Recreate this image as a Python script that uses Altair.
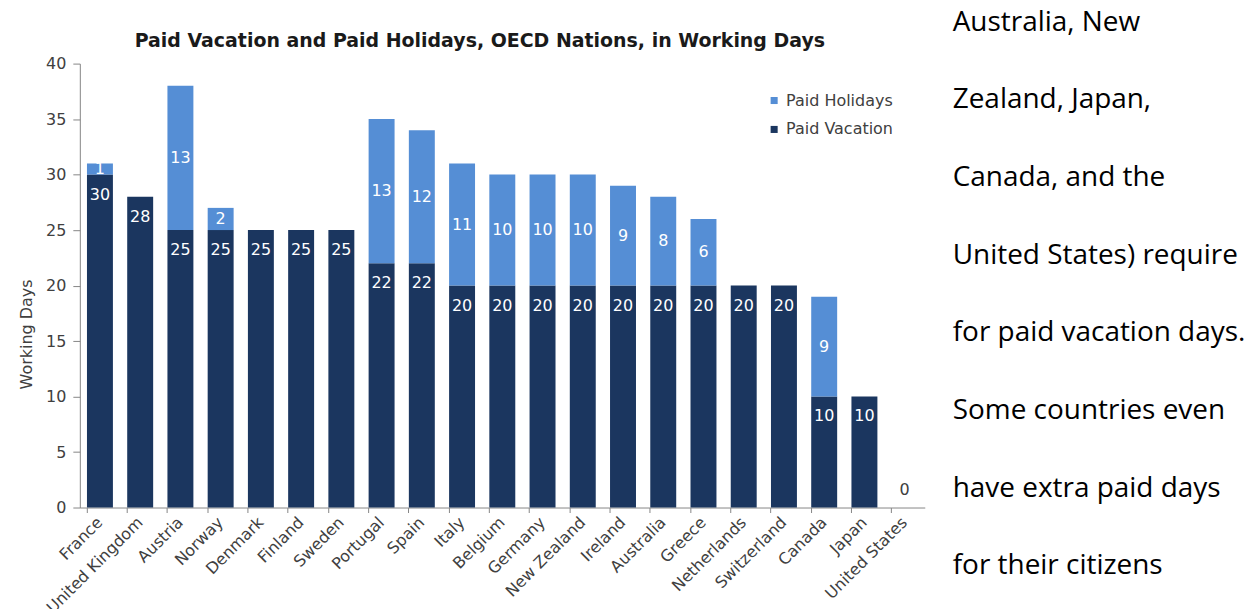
import altair as alt
import pandas as pd

countries = ["France", "United Kingdom", "Austria", "Norway", "Denmark", "Finland",
             "Sweden", "Portugal", "Spain", "Italy", "Belgium", "Germany",
             "New Zealand", "Ireland", "Australia", "Greece", "Netherlands",
             "Switzerland", "Canada", "Japan", "United States"]
vacation = [30, 28, 25, 25, 25, 25, 25, 22, 22, 20, 20, 20, 20, 20, 20, 20, 20, 20, 10, 10, 0]
holidays = [1, 0, 13, 2, 0, 0, 0, 13, 12, 11, 10, 10, 10, 9, 8, 6, 0, 0, 9, 0, 0]
series = ["Paid Holidays", "Paid Vacation"]
colors = ["#558ED5", "#1B365F"]
y_ticks = [0, 5, 10, 15, 20, 25, 30, 35, 40]
title_text = "Paid Vacation and Paid Holidays, OECD Nations, in Working Days"
side_text = ["Australia, New", "Zealand, Japan,", "Canada, and the",
             "United States) require", "for paid vacation days.",
             "Some countries even", "have extra paid days", "for their citizens"]

rows = []
for c, v, h in zip(countries, vacation, holidays):
    rows.append({"country": c, "series": "Paid Vacation", "value": v, "order": 0})
    rows.append({"country": c, "series": "Paid Holidays", "value": h, "order": 1})
bars_df = pd.DataFrame(rows)

vac_lab = pd.DataFrame([{"country": c, "pos": v, "label": str(v)}
                        for c, v in zip(countries, vacation) if v > 0])
zero_lab = pd.DataFrame([{"country": c, "pos": v, "label": str(v)}
                         for c, v in zip(countries, vacation) if v == 0])
hol_lab = pd.DataFrame([{"country": c, "pos": v + h / 2, "label": str(h)}
                        for c, v, h in zip(countries, vacation, holidays) if h > 0])
side_df = pd.DataFrame({"line": list(range(len(side_text))), "text": side_text})

FONT = "DejaVu Sans"
GREY = "#868686"
FS = 16

x_enc = alt.X("country:N", sort=countries, title=None,
              scale=alt.Scale(paddingInner=0.355, paddingOuter=0.1775),
              axis=alt.Axis(labelAngle=-45, labelAlign="right", labelBaseline="middle",
                            labelFontSize=FS, labelFont=FONT, labelColor="#404040",
                            tickSize=5, labelPadding=7, bandPosition=0,
                            domainColor=GREY, tickColor=GREY, labelLimit=300))
y_axis = alt.Axis(values=y_ticks, title="Working Days", titleFont=FONT, titleFontSize=FS,
                  titleFontWeight="normal", titleColor="#404040", titleX=-45, titleY=271,
                  labelFont=FONT, labelFontSize=FS, labelColor="#404040",
                  tickSize=7, labelPadding=7, domainColor=GREY, tickColor=GREY, grid=False)
y_scale = alt.Scale(domain=[0, 40], nice=False)

bars = alt.Chart(bars_df).mark_bar().encode(
    x=x_enc,
    y=alt.Y("value:Q", stack="zero", scale=y_scale, axis=y_axis),
    color=alt.Color("series:N", scale=alt.Scale(domain=series, range=colors),
                    legend=alt.Legend(title=None, orient="none", legendX=688, legendY=29,
                                      symbolType="square", symbolSize=50,
                                      labelFontSize=FS, labelFont=FONT, labelColor="#404040",
                                      rowPadding=13, labelOffset=4, padding=0)),
    order=alt.Order("order:Q"),
)

vac_text = alt.Chart(vac_lab).mark_text(font=FONT, fontSize=FS, color="white",
                                        baseline="middle", dy=20).encode(
    x=x_enc, y=alt.Y("pos:Q", scale=y_scale, axis=y_axis), text="label:N")
hol_text = alt.Chart(hol_lab).mark_text(font=FONT, fontSize=FS, color="white",
                                        baseline="middle").encode(
    x=x_enc, y=alt.Y("pos:Q", scale=y_scale, axis=y_axis), text="label:N")
zero_text = alt.Chart(zero_lab).mark_text(font=FONT, fontSize=FS, color="#404040",
                                          baseline="middle", dy=-18).encode(
    x=x_enc, y=alt.Y("pos:Q", scale=y_scale, axis=y_axis), text="label:N")

left = alt.layer(bars, vac_text, hol_text, zero_text).properties(
    width=847, height=445,
    title=alt.TitleParams(title_text, font=FONT, fontSize=19, fontWeight="bold",
                          color="#1A1A1A", anchor="middle", frame="bounds",
                          baseline="alphabetic", offset=-10, dx=8),
)

side = alt.Chart(side_df).mark_text(align="left", baseline="middle", font="Open Sans",
                                    fontSize=28, color="black").encode(
    x=alt.value(0),
    y=alt.Y("line:Q", scale=alt.Scale(domain=[0, 7], range=[-41, 504]), axis=None),
    text="text:N",
).properties(width=290, height=445)

chart = alt.hconcat(left, side, spacing=28).properties(
    padding={"left": 11, "top": 0, "right": 0, "bottom": 0}
).configure_view(stroke=None)

chart.save("out.html", embed_options={"renderer": "svg", "actions": False})
